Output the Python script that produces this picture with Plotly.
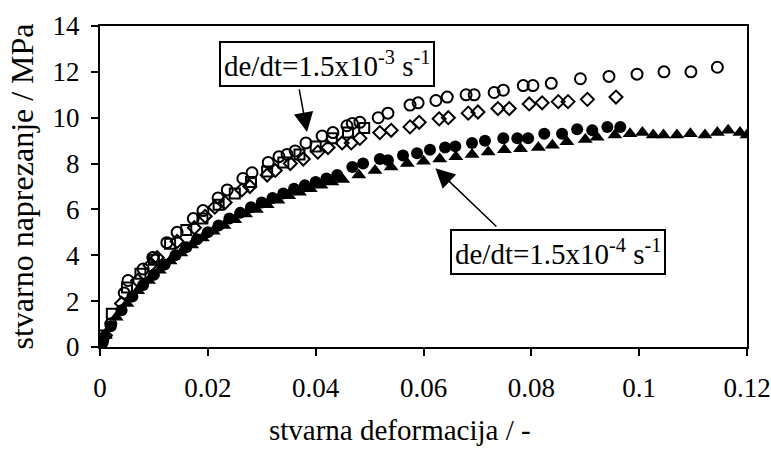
import plotly.graph_objects as go

# High strain rate (1.5e-3 1/s) - open circles
hc_x = [0.0005, 0.002, 0.0045, 0.0052, 0.008, 0.0098, 0.0124, 0.0143, 0.0173, 0.0191, 0.0219, 0.0236, 0.0265,
        0.0282, 0.0312, 0.0332, 0.0347, 0.0362, 0.0382, 0.0412, 0.0432, 0.0458, 0.0468, 0.0482, 0.0516, 0.0534,
        0.0575, 0.059, 0.0623, 0.0644, 0.0679, 0.0694, 0.0731, 0.0748, 0.0785, 0.0803, 0.0837, 0.0891, 0.0944,
        0.0996, 0.1046, 0.1096, 0.1145]
hc_y = [0.3, 1.0, 2.35, 2.9, 3.4, 3.9, 4.55, 5.0, 5.6, 5.95, 6.5, 6.85, 7.35, 7.6, 8.05, 8.3, 8.4, 8.55, 8.9,
        9.2, 9.35, 9.65, 9.75, 9.8, 10.0, 10.2, 10.55, 10.65, 10.75, 10.9, 11.0, 11.0, 11.1, 11.2, 11.4, 11.4,
        11.5, 11.7, 11.8, 11.9, 12.0, 12.0, 12.2]

# High strain rate - open squares
hs_x = [0.0005, 0.0022, 0.005, 0.0075, 0.010, 0.013, 0.016, 0.019, 0.022, 0.025, 0.028, 0.031, 0.034, 0.037,
        0.040, 0.043, 0.046, 0.049]
hs_y = [0.5, 1.45, 2.6, 3.2, 3.8, 4.5, 5.1, 5.6, 6.2, 6.7, 7.2, 7.65, 8.05, 8.4, 8.75, 9.1, 9.35, 9.55]

# High strain rate - open diamonds
hd_x = [0.001, 0.004, 0.007, 0.0093, 0.0106, 0.0143, 0.0175, 0.0195, 0.0213, 0.0232, 0.0263, 0.0278, 0.031,
        0.0325, 0.0353, 0.0377, 0.0404, 0.0423, 0.0449, 0.0466, 0.0482, 0.0519, 0.054, 0.0575, 0.0592, 0.0629,
        0.0646, 0.0683, 0.0701, 0.0738, 0.0759, 0.0796, 0.082, 0.085, 0.0868, 0.0904, 0.0957]
hd_y = [0.5, 1.9, 2.9, 3.55, 3.9, 4.6, 5.2, 5.7, 6.1, 6.3, 6.85, 7.0, 7.5, 7.7, 8.0, 8.2, 8.5, 8.7, 8.9, 8.9,
        9.1, 9.35, 9.45, 9.6, 9.8, 9.95, 10.0, 10.2, 10.25, 10.4, 10.4, 10.6, 10.65, 10.7, 10.7, 10.8, 10.9]

# Low strain rate (1.5e-4 1/s) - filled circles
lc_x = [0.0005, 0.002, 0.004, 0.006, 0.008, 0.010, 0.012, 0.014, 0.016, 0.018, 0.020, 0.022, 0.024, 0.026,
        0.028, 0.030, 0.032, 0.034, 0.036, 0.038, 0.040, 0.042, 0.044, 0.0468, 0.0488, 0.0519, 0.0534, 0.0562,
        0.0588, 0.0612, 0.064, 0.0659, 0.069, 0.0714, 0.0748, 0.0774, 0.0794, 0.0824, 0.0857, 0.0885, 0.0913,
        0.0941, 0.0965]
lc_y = [0.2, 0.9, 1.6, 2.2, 2.7, 3.15, 3.6, 4.0, 4.35, 4.7, 5.0, 5.3, 5.6, 5.85, 6.1, 6.3, 6.5, 6.7, 6.9, 7.05,
        7.2, 7.35, 7.5, 7.85, 8.0, 8.2, 8.15, 8.35, 8.45, 8.6, 8.7, 8.75, 8.9, 9.0, 9.1, 9.1, 9.1, 9.3, 9.3,
        9.5, 9.45, 9.6, 9.6]

# Low strain rate - filled triangles
lt_x = [0.0, 0.001, 0.003, 0.005, 0.007, 0.009, 0.011, 0.013, 0.015, 0.017, 0.019, 0.021, 0.023, 0.025, 0.027,
        0.029, 0.031, 0.033, 0.035, 0.037, 0.039, 0.041, 0.043, 0.045, 0.048, 0.051, 0.054, 0.057, 0.060, 0.063,
        0.066, 0.069, 0.072, 0.075, 0.078, 0.0813, 0.0839, 0.0866, 0.09, 0.0922, 0.0955, 0.0983, 0.1006, 0.1026,
        0.1045, 0.107, 0.1095, 0.1122, 0.1145, 0.1165, 0.1187, 0.12]
lt_y = [0.1, 0.5, 1.3, 1.9, 2.45, 2.9, 3.35, 3.75, 4.1, 4.45, 4.75, 5.05, 5.3, 5.55, 5.8, 6.0, 6.2, 6.4, 6.6,
        6.75, 6.9, 7.05, 7.2, 7.3, 7.5, 7.7, 7.85, 8.0, 8.1, 8.2, 8.3, 8.4, 8.5, 8.6, 8.65, 8.7, 8.8, 8.95, 9.05,
        9.15, 9.25, 9.3, 9.35, 9.25, 9.25, 9.25, 9.3, 9.25, 9.35, 9.45, 9.35, 9.25]

x_ticks = [0, 0.02, 0.04, 0.06, 0.08, 0.1, 0.12]
x_tick_labels = ["0", "0.02", "0.04", "0.06", "0.08", "0.1", "0.12"]
y_ticks = [0, 2, 4, 6, 8, 10, 12, 14]
y_tick_labels = ["0", "2", "4", "6", "8", "10", "12", "14"]

x_title = "stvarna deformacija / -"
y_title = "stvarno naprezanje / MPa"
label_high = "de/dt=1.5x10<sup>-3</sup> s<sup>-1</sup>"
label_low = "de/dt=1.5x10<sup>-4</sup> s<sup>-1</sup>"

FONT = "Liberation Serif, Times New Roman, serif"

fig = go.Figure()
fig.add_trace(go.Scatter(x=lc_x, y=lc_y, mode="markers",
                         marker=dict(symbol="circle", size=12, color="black")))
fig.add_trace(go.Scatter(x=lt_x, y=lt_y, mode="markers",
                         marker=dict(symbol="triangle-up", size=13, color="black")))
fig.add_trace(go.Scatter(x=hs_x, y=hs_y, mode="markers",
                         marker=dict(symbol="square-open", size=10, color="black", line=dict(width=2))))
fig.add_trace(go.Scatter(x=hd_x, y=hd_y, mode="markers",
                         marker=dict(symbol="diamond-open", size=10, color="black", line=dict(width=2))))
fig.add_trace(go.Scatter(x=hc_x, y=hc_y, mode="markers",
                         marker=dict(symbol="circle-open", size=11, color="black", line=dict(width=2))))

# arrows
fig.add_annotation(x=0.0384, y=9.38, ax=0.0369, ay=11.3, axref="x", ayref="y", xref="x", yref="y",
                   text="", showarrow=True, arrowhead=2, arrowsize=2.6, arrowwidth=1.5, arrowcolor="black")
fig.add_annotation(x=0.0622, y=7.8, ax=0.0738, ay=5.19, axref="x", ayref="y", xref="x", yref="y",
                   text="", showarrow=True, arrowhead=2, arrowsize=2.6, arrowwidth=1.5, arrowcolor="black")
# label boxes
fig.add_annotation(x=0.0421, y=12.34, xref="x", yref="y", text=label_high, showarrow=False,
                   font=dict(family=FONT, size=29, color="black"), bgcolor="white",
                   bordercolor="black", borderwidth=2, borderpad=3)
fig.add_annotation(x=0.085, y=4.14, xref="x", yref="y", text=label_low, showarrow=False,
                   font=dict(family=FONT, size=29, color="black"), bgcolor="white",
                   bordercolor="black", borderwidth=2, borderpad=3)
# x-axis title (sits slightly left of the plot centre in the original)
fig.add_annotation(x=0.4637, y=-0.2586, xref="paper", yref="paper", text=x_title, showarrow=False,
                   xanchor="center", yanchor="middle", font=dict(family=FONT, size=29, color="black"))

fig.update_layout(
    width=771, height=453,
    margin=dict(l=100, r=24, t=26, b=106),
    paper_bgcolor="white", plot_bgcolor="white",
    showlegend=False,
    font=dict(family=FONT, size=27, color="black"),
)
fig.update_xaxes(range=[0, 0.12], tickvals=x_ticks, ticktext=x_tick_labels, automargin=False,
                 showgrid=False, zeroline=False, showline=True, linecolor="black", linewidth=2,
                 mirror=True, ticks="outside", ticklen=7, tickwidth=2, tickcolor="black",
                 ticklabelstandoff=9)
fig.update_yaxes(range=[0, 14], tickvals=y_ticks, ticktext=y_tick_labels, automargin=False,
                 showgrid=False, zeroline=False, showline=True, linecolor="black", linewidth=2,
                 mirror=True, ticks="outside", ticklen=7, tickwidth=2, tickcolor="black",
                 ticklabelstandoff=6,
                 title=dict(text=y_title, font=dict(size=32), standoff=9))

fig.write_html("out.html", config={"displayModeBar": False},
               post_script="document.body.style.margin='0';document.body.style.overflow='hidden';")
